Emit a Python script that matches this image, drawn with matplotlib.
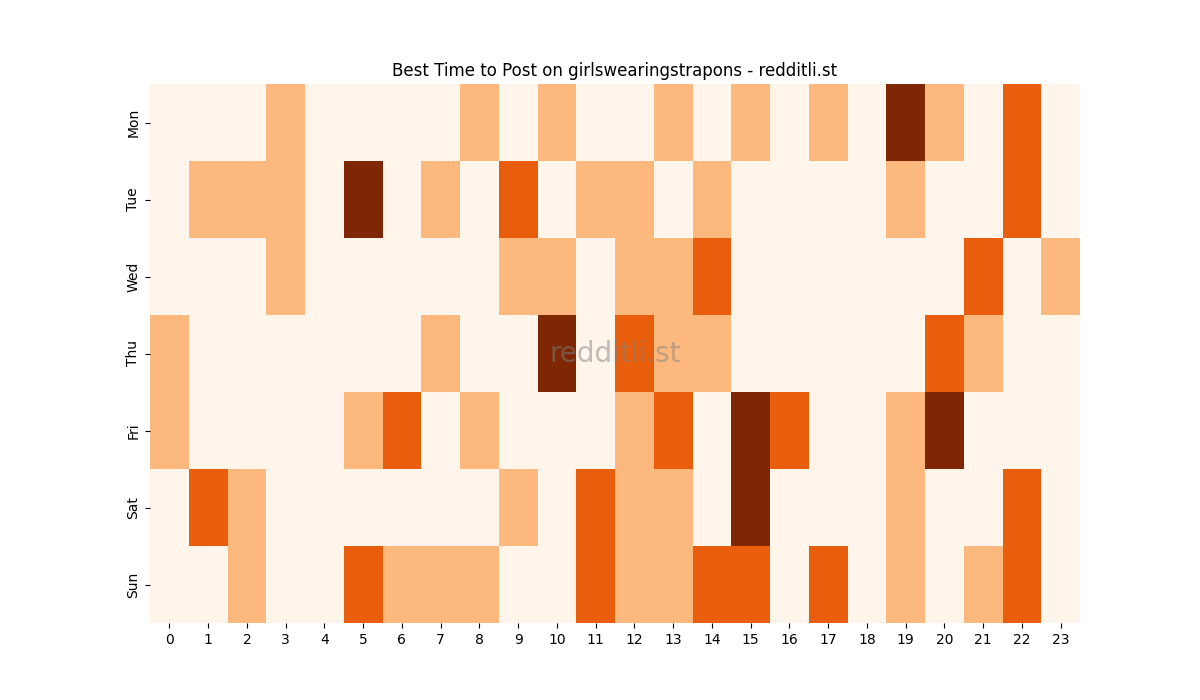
import numpy as np
import pandas as pd
import matplotlib
matplotlib.use("Agg")
import matplotlib.pyplot as plt
import seaborn as sns

days = ["Mon", "Tue", "Wed", "Thu", "Fri", "Sat", "Sun"]
hours = list(range(24))

mon = [0, 0, 0, 1, 0, 0, 0, 0, 1, 0, 1, 0, 0, 1, 0, 1, 0, 1, 0, 3, 1, 0, 2, 0]
tue = [0, 1, 1, 1, 0, 3, 0, 1, 0, 2, 0, 1, 1, 0, 1, 0, 0, 0, 0, 1, 0, 0, 2, 0]
wed = [0, 0, 0, 1, 0, 0, 0, 0, 0, 1, 1, 0, 1, 1, 2, 0, 0, 0, 0, 0, 0, 2, 0, 1]
thu = [1, 0, 0, 0, 0, 0, 0, 1, 0, 0, 3, 0, 2, 1, 1, 0, 0, 0, 0, 0, 2, 1, 0, 0]
fri = [1, 0, 0, 0, 0, 1, 2, 0, 1, 0, 0, 0, 1, 2, 0, 3, 2, 0, 0, 1, 3, 0, 0, 0]
sat = [0, 2, 1, 0, 0, 0, 0, 0, 0, 1, 0, 2, 1, 1, 0, 3, 0, 0, 0, 1, 0, 0, 2, 0]
sun = [0, 0, 1, 0, 0, 2, 1, 1, 1, 0, 0, 2, 1, 1, 2, 2, 0, 2, 0, 1, 0, 1, 2, 0]

df = pd.DataFrame([mon, tue, wed, thu, fri, sat, sun], index=days, columns=hours)

fig, ax = plt.subplots(figsize=(12, 7), dpi=100)
sns.heatmap(df, cmap="Oranges", vmin=0, vmax=3, cbar=False, ax=ax)
ax.set_title("Best Time to Post on girlswearingstrapons - redditli.st")
ax.text(0.5, 0.5, "redditli.st", transform=ax.transAxes, ha="center", va="center",
        fontsize=20, color="gray", alpha=0.5)
plt.savefig("out.png")
